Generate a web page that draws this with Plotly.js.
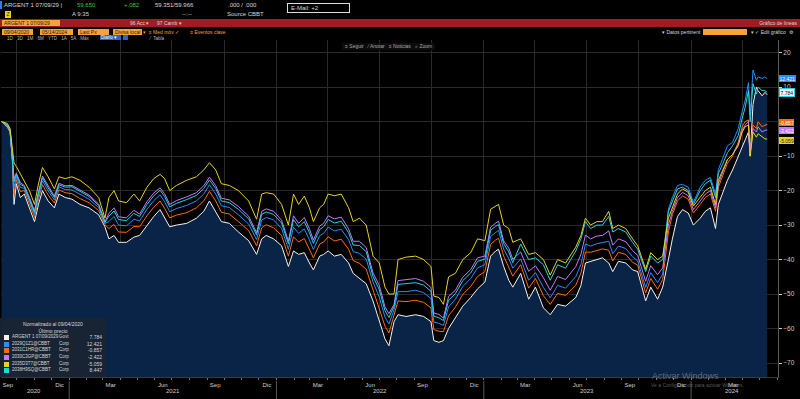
<!DOCTYPE html>
<html><head><meta charset="utf-8">
<script src="https://cdn.plot.ly/plotly-3.0.1.min.js"></script>
<style>
body{margin:0;background:#000;width:800px;height:399px;overflow:hidden;position:relative;font-family:"Liberation Sans",Arial,sans-serif}
#chart{position:absolute;left:0;top:0;width:800px;height:399px;z-index:0}
.t{position:absolute;white-space:nowrap;font-size:6px;line-height:7px;color:#d8d8d8;z-index:3}
.ob{position:absolute;background:#f2a33a;color:#2a1a00;font-size:5px;line-height:6px;height:6px;padding-left:2px;white-space:nowrap;overflow:hidden;z-index:3}
#legend{position:absolute;left:0;top:318px;width:106px;height:59px;background:rgba(26,35,50,0.94);z-index:3;color:#d8d8d8;font-size:5px;line-height:6.6px}
#legend .h{text-align:center}
#legend .r{position:relative;height:6.6px}
#legend .sq{position:absolute;left:4px;top:1px;width:5px;height:5px}
#legend .n{position:absolute;left:12px;top:0;font-size:4.5px}
#legend .k{position:absolute;left:59px;top:0;font-size:4.5px}
#legend .v{position:absolute;right:4px;top:0}
</style></head>
<body>
<div id="chart"></div>

<!-- header -->
<div style="position:absolute;left:0;top:1px;width:2px;height:8px;background:#2a7fff;z-index:3"></div>
<div class="t" style="left:4px;top:2px">ARGENT 1 07/09/29 |</div>
<div class="t" style="left:77px;top:2px;color:#3ec43e">59.650</div>
<div class="t" style="left:124px;top:2px;color:#3ec43e">+.082</div>
<div class="t" style="left:155px;top:2px">59.351/59.966</div>
<div class="t" style="left:228px;top:2px">.000 / .000</div>
<div class="t" style="left:287px;top:3px;width:58px;height:8px;border:1px solid #ddd;padding-left:3px;line-height:8px">E-Mail: +2</div>
<div style="position:absolute;left:5px;top:11px;width:6px;height:7px;background:#e8d400;z-index:3;font-size:5px;line-height:7px;color:#222;text-align:center">Z</div>
<div class="t" style="left:72px;top:11px">A 9:35</div>
<div class="t" style="left:182px;top:11px">--:--</div>
<div class="t" style="left:227px;top:11px">Source CBBT</div>
<div style="position:absolute;left:0;top:19px;width:800px;height:8px;background:#9e1c22;z-index:2"></div>
<div class="ob" style="left:2px;top:20px;width:56px">ARGENT 1 07/09/29</div>
<div class="t" style="left:130px;top:20px;font-size:5px">96 Acc ▾</div>
<div class="t" style="left:157px;top:20px;font-size:5px">97 Camb ▾</div>
<div class="t" style="right:3px;top:20px;font-size:5px">Gráfico de líneas</div>
<div class="ob" style="left:2px;top:29px;width:29px">09/04/2020</div>
<div class="ob" style="left:40px;top:29px;width:31px">05/14/2024</div>
<div class="ob" style="left:78px;top:29px;width:29px">Last Px</div>
<div class="ob" style="left:113px;top:29px;width:27px">Divisa local</div>
<div class="t" style="left:143px;top:29px;font-size:5px;color:#f2a33a">▾ &nbsp;≡ Med móv ✓ &nbsp;&nbsp;&nbsp;&nbsp;&nbsp;&nbsp;&nbsp;≡ Eventos clave</div>
<div class="t" style="left:662px;top:29px;font-size:5px">▾ Datos pertinent</div>
<div class="ob" style="left:703px;top:29px;width:42px"></div>
<div class="t" style="left:751px;top:29px;font-size:5px">▾ ✓ Edit gráfico &nbsp;⚙</div>
<div class="t" style="left:7px;top:35px;font-size:4.5px;color:#bbb;word-spacing:3px">1D 3D 1M 6M YTD 1A 5A Máx</div>
<div style="position:absolute;left:100px;top:35px;width:20px;height:5px;background:#2b64c8;z-index:3;font-size:4.5px;line-height:5px;color:#fff;padding-left:1px">Diario ▾</div>
<div style="position:absolute;left:123px;top:35px;width:5px;height:5px;background:#2b64c8;z-index:3"></div>
<div class="t" style="left:150px;top:35px;font-size:4.5px;color:#bbb">⁄ &nbsp;Tabla</div>
<div class="t" style="left:342px;top:43px;font-size:5px;color:#aaa;background:#0c0c0c;padding:0 3px">≡ Seguir &nbsp;&nbsp;⁄ Anotar &nbsp;&nbsp;≡ Noticias &nbsp;&nbsp;⌕ Zoom</div>

<div id="legend"></div>

<div class="t" style="left:652px;top:371px;font-size:9px;line-height:10px;color:rgba(200,200,200,0.45)">Activar Windows</div>
<div class="t" style="left:651px;top:382px;font-size:5px;color:rgba(200,200,200,0.45)">Ve a Configuración para activar Windows.</div>

<script>
const dates = ['2020-09-04','2020-09-14','2020-09-19','2020-09-23','2020-09-26','2020-09-30','2020-10-07','2020-10-14','2020-10-23','2020-11-01',
'2020-11-08','2020-11-15','2020-11-25','2020-12-06','2020-12-14','2020-12-25','2021-01-06','2021-01-20','2021-02-05','2021-02-22',
'2021-03-05','2021-03-12','2021-03-21','2021-03-29','2021-04-12','2021-04-25','2021-05-05','2021-05-18','2021-05-30','2021-06-10',
'2021-06-18','2021-06-27','2021-07-09','2021-07-27','2021-08-13','2021-08-26','2021-09-05','2021-09-16','2021-09-26','2021-10-10',
'2021-10-26','2021-11-13','2021-11-27','2021-12-06','2021-12-14','2021-12-27','2022-01-10','2022-01-22','2022-01-31','2022-02-09',
'2022-02-19','2022-02-28','2022-03-07','2022-03-18','2022-03-25','2022-04-02','2022-04-13','2022-04-25','2022-05-08','2022-05-16',
'2022-05-27','2022-06-08','2022-06-20','2022-07-01','2022-07-11','2022-07-18','2022-07-27','2022-08-03','2022-08-17','2022-09-03',
'2022-09-17','2022-09-30','2022-10-05','2022-10-14','2022-10-22','2022-10-31','2022-11-12','2022-11-25','2022-12-09','2022-12-21',
'2023-01-03','2023-01-13','2023-01-22','2023-01-27','2023-02-05','2023-02-14','2023-02-21','2023-03-07','2023-03-21','2023-04-02',
'2023-04-16','2023-04-28','2023-05-11','2023-05-25','2023-06-12','2023-06-21','2023-06-29','2023-07-08','2023-07-19','2023-07-29',
'2023-08-09','2023-08-16','2023-08-26','2023-09-08','2023-09-20','2023-09-29','2023-10-13','2023-10-22','2023-11-03','2023-11-12',
'2023-11-22','2023-11-29','2023-12-08','2023-12-17','2023-12-27','2024-01-05','2024-01-17','2024-01-26','2024-02-04','2024-02-13',
'2024-02-18','2024-02-25','2024-03-05','2024-03-14','2024-03-24','2024-03-31','2024-04-05','2024-04-11','2024-04-14','2024-04-19',
'2024-04-25','2024-04-28','2024-05-05','2024-05-10','2024-05-14'];

const argentGovt = [0,-1.5,-3,-11,-24,-18,-22,-21,-25,-29,
-24,-20,-23,-25,-21,-22,-22.5,-24,-25,-27,
-30.5,-34,-33,-35,-35,-33.5,-33,-30,-27.5,-25.5,
-28,-30.5,-30,-29.5,-28,-26,-23,-26,-29,-29.5,
-32,-34.5,-38.5,-34,-33,-34,-36,-42,-37.5,-38.5,
-38,-41,-43,-39,-38.5,-37.5,-39,-38.5,-41,-44,
-45.5,-47,-52,-58,-63,-65,-58,-56,-56.5,-56,
-56.5,-58,-63.5,-64,-63.5,-60,-57,-53.5,-51,-48.5,
-46.5,-39,-37.5,-37,-42,-46,-48,-44,-51.5,-48,
-54,-56,-53,-53.5,-51,-47.5,-41,-40.5,-40,-39.5,
-41,-43.5,-40.5,-41,-43,-43.5,-52,-48,-51.5,-48,
-40,-34,-27.5,-25.5,-26.5,-30,-28,-26,-25,-31,
-24,-21,-17,-14,-10,-7,-5,-3,-10,5,
10,9,7.5,8.5,7.784];

const bondBlue = [0,-1.1,-2.6,-10.2,-19,-15.9,-19.1,-19.3,-22.9,-26.9,
-21.5,-17.2,-20.1,-22.7,-18.9,-19.7,-19.8,-21.1,-22.5,-24.9,
-29.5,-29,-27.5,-30,-30.2,-28.3,-28.8,-25.4,-22.9,-21.2,
-23.2,-26.1,-25.2,-24.3,-23,-21,-18.3,-21,-24.4,-24.9,
-27,-29.7,-34.2,-28.5,-27.8,-28.5,-31,-37,-30.6,-32.4,
-31.1,-34.3,-37.1,-33.1,-32.4,-30.6,-31.7,-31.2,-34.3,-37.7,
-38.2,-39.9,-46.5,-50.9,-56.7,-58.7,-54.6,-49.3,-49.3,-48.9,
-49.6,-51.3,-58.1,-58.5,-59.1,-53.7,-51.5,-47.8,-45.5,-42.4,
-41.5,-33.3,-32,-31.5,-37,-39.7,-42.5,-39.8,-46,-43.8,
-48.1,-51.1,-47.5,-48.3,-44.9,-41.4,-35.5,-36.1,-35.4,-35.1,
-34.7,-38.3,-36.1,-36.8,-39.2,-40.4,-48.1,-43.8,-46.7,-44.2,
-25.4,-22,-18.5,-18.2,-19,-23.4,-19,-17,-16.2,-21,
-13.9,-11,-7,-6,-2,3,6,11.3,2,15,
12,13,12.5,13,12.421];

const bondOrange = [0,-1.3,-2.8,-10.5,-21,-16.8,-20.3,-20,-23.8,-27.8,
-22.5,-18.3,-21.3,-23.6,-19.8,-20.6,-20.9,-22.3,-23.5,-25.8,
-29.9,-31,-29.8,-32,-32.1,-30.4,-30.5,-27.3,-24.8,-23,
-25.1,-27.9,-27.1,-26.4,-25,-23,-20.2,-23,-26.3,-26.8,
-29,-31.6,-36,-30.8,-29.9,-30.8,-33,-39,-33.4,-34.9,
-33.9,-37,-39.5,-35.5,-34.9,-33.4,-34.6,-34.1,-37,-40.3,
-41.1,-42.8,-48.8,-53.8,-59.3,-61.3,-56,-52,-52.2,-51.8,
-52.4,-54,-60.3,-60.8,-60.9,-56.3,-53.8,-50.1,-47.8,-44.9,
-43.5,-35.6,-34.3,-33.8,-39,-42.3,-44.8,-41.5,-48.3,-45.5,
-50.5,-53,-49.8,-50.4,-47.4,-43.9,-37.8,-37.9,-37.3,-36.9,
-37.3,-40.4,-37.9,-38.5,-40.8,-41.6,-49.7,-45.5,-48.6,-45.8,
-32,-27,-23,-21.5,-22.5,-26.5,-24,-22,-21,-26,
-19,-16,-12,-10,-6,-1.4,0,0.5,-9,-1,
-2,0,-1.5,-1,-0.857];

const bondPurple = [0,-0.9,-2.4,-9.8,-16.6,-14.9,-17.7,-18.5,-21.9,-25.9,
-20.3,-15.8,-18.7,-21.6,-17.9,-18.6,-18.5,-19.7,-21.3,-23.9,
-29,-26.6,-25,-27.6,-27.9,-25.7,-26.8,-23.2,-20.7,-19.2,
-20.9,-24,-22.9,-21.8,-20.6,-18.6,-16.1,-18.6,-22.2,-22.7,
-24.6,-27.4,-32.2,-26,-25.3,-26,-28.6,-34.6,-27.3,-29.5,
-27.8,-31.1,-34.3,-30.3,-29.5,-27.3,-28.2,-27.7,-31.1,-34.7,
-34.7,-36.5,-43.9,-47.5,-53.7,-55.7,-53,-46.1,-45.8,-45.5,
-46.3,-48.1,-55.5,-55.9,-57,-50.7,-48.9,-45.1,-42.9,-39.5,
-39,-30.6,-29.4,-28.9,-34.6,-36.7,-39.9,-37.8,-43.4,-41.8,
-45.3,-48.9,-44.9,-45.8,-42,-38.5,-32.9,-34,-33.2,-33,
-31.7,-35.8,-34,-34.8,-37.4,-38.8,-46.3,-41.8,-44.4,-42.4,
-30,-26,-22,-20.5,-21.5,-25.5,-23,-21,-20,-25,
-18,-15,-11,-9.5,-6.5,-2.5,-1,0,-9.5,-2,
-3,-1.5,-3,-2.5,-2.422];

const bondYellow = [0,-0.5,-2,-9,-12,-13,-15,-17,-20,-24,
-18,-13.3,-16,-19.5,-16,-16.5,-16,-17,-19,-22,
-28,-22,-20,-23,-23.5,-21,-23,-19,-16.5,-15.3,
-16.5,-20,-18.5,-17,-16,-14,-11.9,-14,-18,-18.5,
-20,-23,-28.3,-21,-20.6,-21,-24,-30,-21,-24,
-21.6,-25,-29,-25,-24,-21,-21.5,-21,-25,-29,
-28,-30,-39,-41,-48,-50,-50,-40,-39.3,-39,
-40,-42,-50.6,-51,-53,-45,-44,-40,-38,-34,
-34.5,-25.4,-24.5,-24,-30,-31,-35,-34,-38.5,-38,
-40,-44.5,-40,-41,-36.4,-33,-28,-30,-29,-29,
-26,-31,-30,-31,-34,-36,-42.8,-38,-40,-39,
-28,-25,-21,-19.5,-20.5,-24.5,-22,-20,-19,-24,
-17,-14.5,-11,-9.5,-7,-3,-1.5,-1,-10,-3,
-4.5,-3.5,-4.5,-5,-5.059];

const bondCyan = [0,-1,-2.5,-9.9,-17.4,-15.3,-18.2,-18.8,-22.3,-26.3,
-20.7,-16.3,-19.2,-22,-18.3,-19,-18.9,-20.2,-21.7,-24.3,
-29.2,-27.4,-25.9,-28.4,-28.7,-26.6,-27.5,-24,-21.5,-19.9,
-21.7,-24.7,-23.7,-22.6,-21.4,-19.4,-16.9,-19.4,-23,-23.5,
-25.4,-28.2,-32.9,-26.9,-26.2,-26.9,-29.4,-35.4,-28.4,-30.5,
-29,-32.2,-35.3,-31.3,-30.5,-28.4,-29.4,-28.9,-32.2,-35.8,
-35.9,-37.7,-44.9,-48.7,-54.8,-56.8,-53.6,-47.2,-47,-46.7,
-47.4,-49.2,-56.4,-56.9,-57.7,-51.8,-49.9,-46.1,-43.9,-40.5,
-39.9,-31.5,-30.3,-29.9,-35.4,-37.8,-40.9,-35.5,-40,-39.5,
-41.5,-46,-41.5,-42.5,-37.5,-34,-29,-31,-30,-30,
-27.5,-32,-31,-32,-35,-37,-43.5,-39,-41,-40,
-26,-23,-19.5,-19,-20,-24,-20,-18,-17,-22,
-15,-12.5,-9,-7,-4,1,4,9,0,11,
8,10,9,9,8.447];

const seriesNames = ['ARGENT 1 07/09/2029','2029Q1Z1@CBBT','2031C1HR@CBBT','2030C3GP@CBBT','2035D3T7@CBBT','2038H9SQ@CBBT'];
const seriesKinds = ['Govt','Corp','Corp','Corp','Corp','Corp'];
const seriesValues = [argentGovt, bondBlue, bondOrange, bondPurple, bondYellow, bondCyan];
const seriesColors = ['#f2f2f2','#2a8cff','#ff6a10','#c27bff','#e8d21d','#23d5e0'];
const labelTextColors = ['#111','#fff','#fff','#fff','#222','#111'];

const monthTickVals = ['2020-09-15','2020-12-15','2021-03-15','2021-06-15','2021-09-15','2021-12-15','2022-03-15','2022-06-15','2022-09-15','2022-12-15','2023-03-15','2023-06-15','2023-09-15','2023-12-15','2024-03-15'];
const monthTickText = ['Sep','Dic','Mar','Jun','Sep','Dic','Mar','Jun','Sep','Dic','Mar','Jun','Sep','Dic','Mar'];
const quarterStarts = ['2020-10-01','2021-01-01','2021-04-01','2021-07-01','2021-10-01','2022-01-01','2022-04-01','2022-07-01','2022-10-01','2023-01-01','2023-04-01','2023-07-01','2023-10-01','2024-01-01','2024-04-01'];
const yearLabels = ['2020','2021','2022','2023','2024'];
const yearLabelPos = ['2020-10-31','2021-07-02','2022-07-02','2023-07-02','2024-03-13'];
const yearStarts = ['2021-01-01','2022-01-01','2023-01-01','2024-01-01'];
const yTicks = [20,10,0,-10,-20,-30,-40,-50,-60,-70];

const FONT = '"Liberation Sans", Arial, sans-serif';
const xRange = ['2020-09-03','2024-06-02'];
const yRange = [-74.06, 23.68];

const traces = [];
// baseline for the area fill under the main bond
traces.push({x:[dates[0], dates[dates.length-1]], y:[yRange[0]-10, yRange[0]-10], mode:'lines', line:{width:0}, hoverinfo:'skip', showlegend:false});
traces.push({x:dates, y:argentGovt, mode:'lines', line:{color:seriesColors[0], width:1}, fill:'tonexty', fillcolor:'#0a2448', showlegend:false});
const order = [2,1,3,5,4];
order.forEach(i => {
  traces.push({x:dates, y:seriesValues[i], mode:'lines', line:{color:seriesColors[i], width:1}, showlegend:false});
});
// grid helper on overlay axis
traces.push({x:[dates[0]], y:[0], xaxis:'x2', mode:'markers', marker:{opacity:0}, hoverinfo:'skip', showlegend:false});

const annotations = [];
yearLabels.forEach((t,i) => annotations.push({x:yearLabelPos[i], xref:'x', y:-0.056, yref:'paper', text:t, showarrow:false, font:{size:6, color:'#cfcfcf', family:FONT}}));
// last-value tags on the right axis (cyan tag sits under the white one)
const labelOrder = [1,0,2,3,4];
const labelShift = {0:2, 1:0, 2:2, 3:0, 4:-1};
labelOrder.forEach(i => {
  const v = seriesValues[i][seriesValues[i].length-1];
  annotations.push({xref:'paper', x:1, xanchor:'left', xshift:1, y:v, yref:'y', yshift:labelShift[i], text:v.toFixed(3), showarrow:false,
    bgcolor:seriesColors[i], borderpad:0.5, bordercolor:(i===0?seriesColors[5]:seriesColors[i]), borderwidth:(i===0?1:0),
    font:{size:5, color:labelTextColors[i], family:FONT}});
});

const shapes = yearStarts.map(d => ({type:'line', xref:'x', x0:d, x1:d, yref:'paper', y0:-0.012, y1:-0.066, line:{color:'#555', width:1}}));

const layout = {
  width:800, height:399,
  margin:{l:1, r:22, t:40, b:22, pad:0},
  paper_bgcolor:'#000', plot_bgcolor:'#000',
  showlegend:false,
  xaxis:{type:'date', range:xRange, tickmode:'array', tickvals:monthTickVals, ticktext:monthTickText,
    tickfont:{size:6, color:'#cfcfcf', family:FONT}, ticks:'', showgrid:false, zeroline:false, ticklabelstandoff:2,
    showline:true, linecolor:'#3a3a3a', linewidth:1,
    minor:{tickmode:'linear', tick0:'2020-09-01', dtick:'M1', ticks:'outside', ticklen:2, tickcolor:'#777', showgrid:false}},
  xaxis2:{type:'date', overlaying:'x', range:xRange, tickmode:'array', tickvals:quarterStarts, showticklabels:false,
    ticks:'', showgrid:true, gridcolor:'#2a2a2a', gridwidth:1, zeroline:false, showline:false, side:'top'},
  yaxis:{side:'right', range:yRange, tickmode:'array', tickvals:yTicks, ticks:'outside', ticklen:3, tickcolor:'#cfcfcf',
    tickfont:{size:6.5, color:'#cfcfcf', family:FONT}, showgrid:true, gridcolor:'#2a2a2a', gridwidth:1,
    zeroline:false, showline:true, linecolor:'#5a5a5a', linewidth:1},
  annotations:annotations,
  shapes:shapes
};

Plotly.newPlot('chart', traces, layout, {staticPlot:true, displayModeBar:false});

// legend box
const lg = document.getElementById('legend');
let html = '<div class="h" style="margin-top:3px">Normalizado al 09/04/2020</div><div class="h">Último precio</div>';
seriesNames.forEach((n,i) => {
  const v = seriesValues[i][seriesValues[i].length-1];
  html += '<div class="r"><span class="sq" style="background:'+seriesColors[i]+'"></span><span class="n">'+n+'</span><span class="k">'+seriesKinds[i]+'</span><span class="v">'+v.toFixed(3)+'</span></div>';
});
lg.innerHTML = html;
</script>
</body></html>
